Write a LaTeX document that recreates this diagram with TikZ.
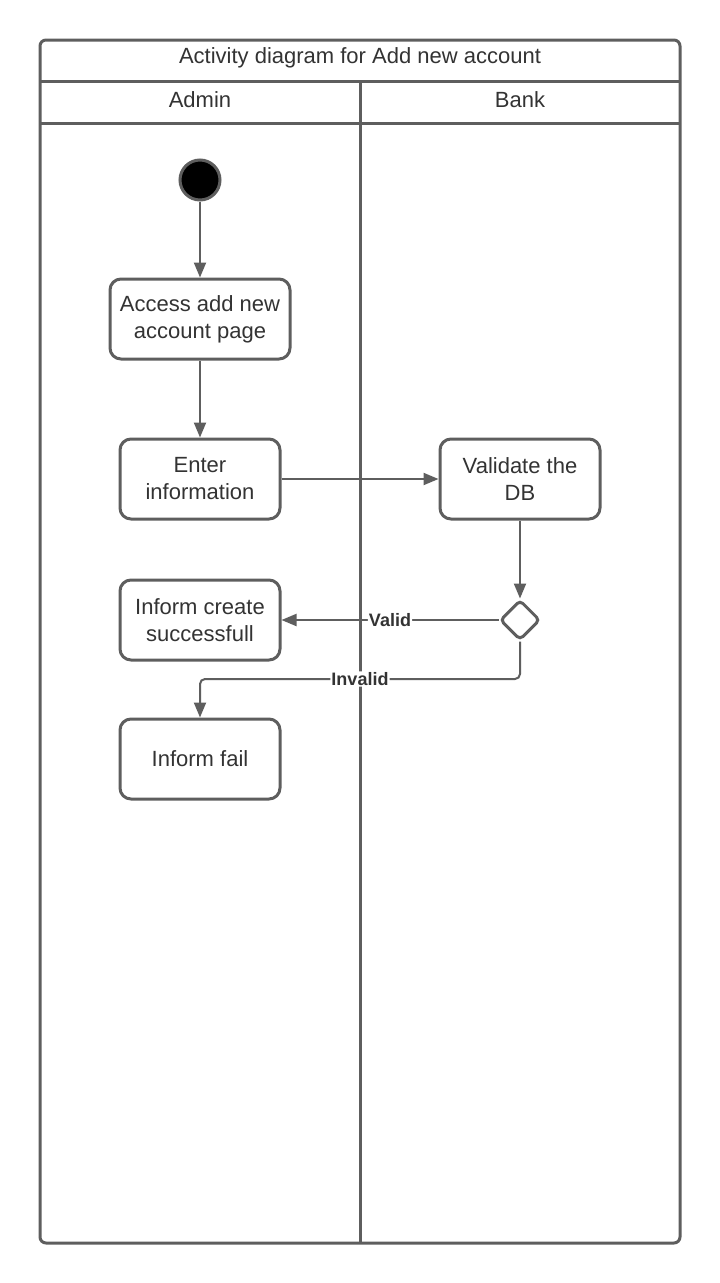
\documentclass[tikz,border=0pt]{standalone}
\usepackage{fontspec}
\setmainfont{Liberation Sans}
\usetikzlibrary{shapes.geometric,arrows.meta}
\definecolor{ln}{HTML}{5E5E5E}
\definecolor{tx}{HTML}{333333}
\begin{document}
\begin{tikzpicture}[x=1pt,y=-1pt,
  frame/.style={draw=ln,line width=3pt},
  act/.style={draw=ln,line width=3pt,rounded corners=11pt,minimum width=#1,minimum height=80pt,align=center,text=tx,font=\fontsize{22}{27}\selectfont,inner sep=2pt},
  act/.default=160pt,
  flow/.style={draw=ln,line width=2pt,-{Triangle[length=15pt,width=12pt]},rounded corners=5pt},
  lbl/.style={fill=white,text=tx,font=\bfseries\fontsize{18}{20}\selectfont,inner sep=1pt},
  hdr/.style={text=tx,font=\fontsize{22}{26}\selectfont}]
\useasboundingbox (0,0) rectangle (720,1283);
\fill[white] (0,0) rectangle (720,1283);
% frame
\draw[frame,rounded corners=6pt] (40,40) rectangle (680,1243);
\draw[frame] (40,81) -- (680,81);
\draw[frame] (40,123) -- (680,123);
\draw[frame] (360,81) -- (360,1243);
\node[hdr] (title) at (360,58) {Activity diagram for Add new account};
\node[hdr] (admin) at (200,100) {Admin};
\node[hdr] (bank) at (520,100) {Bank};
% nodes
\node[circle,fill=black,draw=ln,line width=3pt,minimum size=40pt,inner sep=0pt] (start) at (200,180) {};
\node[act=180pt] (access) at (200,319) {Access add new\\account page};
\node[act] (enter) at (200,479) {Enter\\information};
\node[act] (validate) at (520,479) {Validate the\\DB};
\node[diamond,draw=ln,line width=3pt,minimum size=40pt,inner sep=0pt,rounded corners=4pt] (dec) at (520,620) {};
\node[act] (success) at (200,620) {Inform create\\successfull};
\node[act] (fail) at (200,759) {Inform fail};
\coordinate (c1) at (520,679);
\coordinate (c2) at (200,679);
% connectors
\draw[flow] (start) -- (access);
\draw[flow] (access) -- (enter);
\draw[flow] (enter) -- (validate);
\draw[flow] (validate) -- (dec);
\draw[flow] (dec) -- node[lbl,pos=0.5]{Valid} (success);
\draw[flow] (dec.south) -- (c1) -- node[lbl,pos=0.5]{Invalid} (c2) -- (fail);
\end{tikzpicture}
\end{document}
